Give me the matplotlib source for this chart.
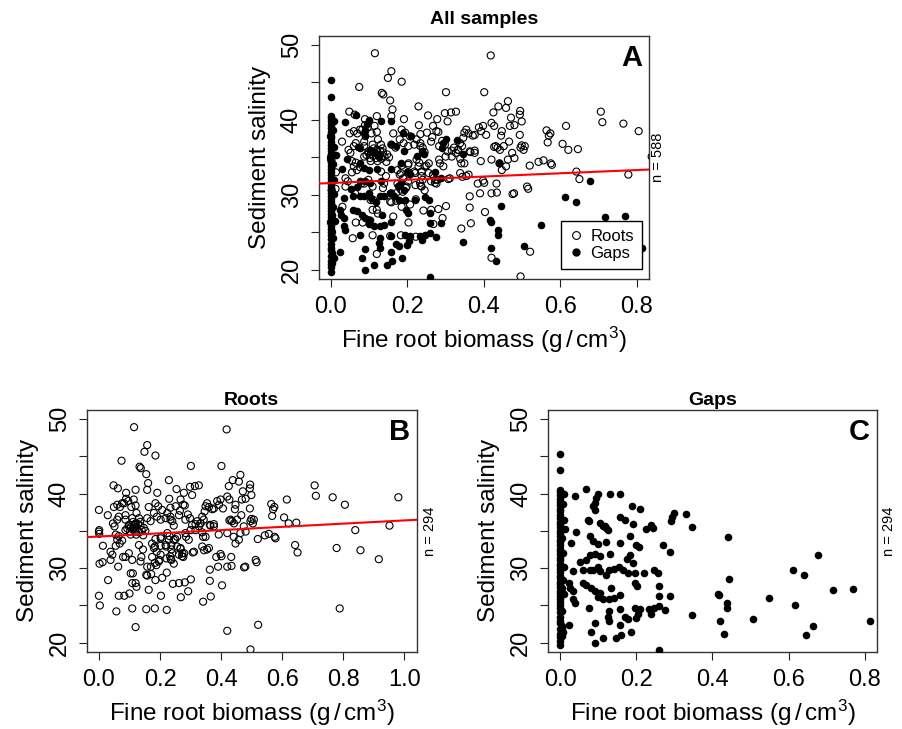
import numpy as np
import matplotlib
matplotlib.use("Agg")
import matplotlib.pyplot as plt
from matplotlib.lines import Line2D

plt.rcParams['font.family'] = ['Liberation Sans', 'DejaVu Sans']
plt.rcParams['mathtext.fontset'] = 'custom'
plt.rcParams['mathtext.rm'] = 'Liberation Sans'
plt.rcParams['mathtext.it'] = 'Liberation Sans:italic'
plt.rcParams['mathtext.default'] = 'regular'

# Fine root biomass (g/cm3) and sediment salinity, cores with roots
roots_points = np.array([
    (0.115, 48.9), (0.418, 48.6), (0.158, 46.5), (0.149, 45.6), (0.185, 45.1), (0.074, 44.4),
    (0.133, 43.6), (0.137, 43.4), (0.301, 43.7), (0.401, 43.7), (0.155, 42.6), (0.229, 41.8),
    (0.463, 42.5), (0.438, 41.8), (0.458, 41.6), (0.425, 41.0), (0.048, 41.1), (0.062, 40.7),
    (0.161, 41.4), (0.158, 40.5), (0.120, 40.5), (0.089, 40.1), (0.191, 40.1), (0.254, 40.6),
    (0.278, 40.1), (0.298, 40.9), (0.314, 41.0), (0.305, 39.8), (0.327, 41.1), (0.495, 41.2),
    (0.494, 40.7), (0.471, 40.3), (0.499, 39.8), (0.480, 39.3), (0.494, 38.0), (0.499, 36.6),
    (0.706, 41.1), (0.710, 39.7), (0.765, 39.5), (0.805, 38.5), (0.980, 39.5), (0.615, 39.2),
    (0.564, 38.6), (0.574, 38.2), (0.570, 37.9), (0.567, 37.0), (0.606, 36.8), (0.621, 36.0),
    (0.646, 36.1), (0.839, 35.1), (0.951, 35.7), (0.778, 32.7), (0.856, 32.4), (0.916, 31.2),
    (0.642, 33.1), (0.650, 32.1), (0.575, 34.2), (0.520, 33.9), (0.556, 34.6), (0.543, 34.4),
    (0.578, 34.0), (0.788, 24.6), (0.521, 22.4), (0.420, 21.6), (0.496, 19.1),
    (0.513, 31.1), (0.516, 30.8), (0.475, 30.1), (0.398, 31.9), (0.401, 31.6), (0.384, 31.5),
    (0.433, 31.5), (0.434, 30.3), (0.390, 30.2), (0.363, 29.8), (0.363, 28.3), (0.403, 27.7),
    (0.341, 25.5), (0.366, 26.2), (0.479, 30.2), (0.420, 30.2),
    (0.000, 34.9), (0.001, 34.6), (0.013, 33.0), (0.002, 30.6), (0.012, 30.8), (0.038, 32.2),
    (0.044, 31.8), (0.038, 31.1), (0.063, 30.2), (0.030, 28.4), (0.000, 26.3), (0.003, 25.0),
    (0.057, 24.2), (0.065, 26.3), (0.083, 26.3), (0.100, 26.6), (0.109, 28.0), (0.104, 29.3),
    (0.123, 27.5), (0.109, 24.6), (0.120, 22.1), (0.155, 24.5), (0.183, 24.6), (0.222, 24.4),
    (0.163, 27.1), (0.158, 29.0), (0.171, 29.2), (0.185, 28.4), (0.207, 28.7), (0.222, 29.4),
    (0.203, 26.3), (0.242, 27.9), (0.262, 28.0), (0.281, 28.1), (0.301, 28.5), (0.292, 26.9),
    (0.268, 26.1), (0.349, 34.2), (0.338, 32.9), (0.307, 32.1), (0.272, 31.6), (0.279, 32.0),
    (0.267, 32.6), (0.233, 31.6), (0.235, 31.2), (0.237, 32.5), (0.196, 30.9), (0.183, 30.7),
    (0.174, 31.5), (0.170, 30.2), (0.139, 31.5), (0.144, 32.5), (0.131, 33.1), (0.109, 31.1),
    (0.087, 31.5), (0.183, 32.9), (0.202, 33.0), (0.218, 33.1), (0.098, 32.0), (0.136, 30.9),
    (0.079, 31.5), (0.155, 29.1), (0.158, 30.2), (0.111, 29.3), (0.120, 28.0),
    (0.174, 33.3), (0.180, 32.7), (0.189, 32.2), (0.202, 34.0), (0.224, 34.7), (0.229, 33.8),
    (0.220, 32.9), (0.237, 33.1), (0.245, 33.8), (0.256, 34.2), (0.256, 32.9), (0.267, 32.7),
    (0.273, 32.0), (0.262, 31.8), (0.276, 31.5), (0.240, 32.0), (0.237, 31.1), (0.221, 31.3),
    (0.245, 30.6), (0.198, 31.1), (0.188, 30.4), (0.202, 31.8),
    (0.251, 38.3), (0.267, 39.2), (0.276, 38.5), (0.265, 37.7), (0.234, 36.9), (0.240, 36.3),
    (0.224, 37.4), (0.291, 37.2), (0.300, 35.1), (0.298, 36.7), (0.311, 32.2), (0.294, 33.8),
    (0.285, 34.2), (0.322, 36.3), (0.333, 36.0), (0.338, 36.9), (0.346, 37.6), (0.349, 38.3),
    (0.354, 38.7), (0.360, 38.2), (0.371, 37.9), (0.376, 35.6), (0.363, 35.8), (0.338, 34.8),
    (0.341, 34.2), (0.360, 32.7), (0.354, 32.5), (0.344, 32.4), (0.376, 38.0), (0.387, 39.0),
    (0.398, 39.2), (0.393, 38.5), (0.420, 39.6), (0.447, 38.5), (0.445, 37.9), (0.431, 36.5),
    (0.442, 36.0), (0.420, 34.7), (0.463, 34.7), (0.447, 33.3), (0.474, 35.6), (0.480, 34.9),
    (0.507, 36.5), (0.504, 36.0),
    (0.000, 37.8), (0.001, 35.1), (0.029, 37.1), (0.049, 38.2), (0.060, 38.5), (0.076, 38.7),
    (0.089, 39.3), (0.096, 39.0), (0.114, 39.2), (0.082, 38.7), (0.106, 38.2), (0.120, 38.4),
    (0.123, 37.4), (0.069, 38.2), (0.060, 36.5), (0.046, 36.0), (0.051, 35.6), (0.055, 34.5),
    (0.060, 33.8), (0.068, 33.3), (0.055, 33.0), (0.065, 36.9), (0.087, 37.1), (0.087, 36.5),
    (0.098, 35.8), (0.109, 36.7), (0.120, 36.0), (0.131, 36.7), (0.136, 35.7), (0.158, 36.7),
    (0.169, 36.3), (0.190, 36.9), (0.202, 36.5), (0.218, 36.7), (0.245, 35.7), (0.234, 36.5),
    (0.262, 37.1), (0.283, 36.5), (0.316, 35.9), (0.332, 36.0), (0.343, 36.5), (0.365, 35.7),
    (0.376, 35.9), (0.452, 36.5), (0.496, 36.3),
    (0.098, 35.6), (0.120, 35.8), (0.147, 35.4), (0.087, 35.1), (0.104, 34.5), (0.065, 34.3),
    (0.076, 33.7), (0.185, 33.9), (0.203, 34.2), (0.250, 33.9), (0.231, 34.3),
    (0.105, 35.5), (0.110, 35.2), (0.115, 35.6), (0.118, 34.9), (0.125, 35.3), (0.128, 35.9),
    (0.112, 36.2), (0.132, 34.8), (0.140, 35.1), (0.102, 34.9), (0.093, 35.3), (0.122, 34.5),
    (0.145, 34.4), (0.152, 35.0), (0.135, 36.2),
    (0.163, 38.2), (0.185, 38.7), (0.194, 38.3), (0.180, 37.4), (0.207, 37.8), (0.230, 39.3),
    (0.234, 38.1), (0.281, 38.4), (0.427, 39.2), (0.406, 38.0), (0.468, 39.2), (0.466, 37.1),
    (0.427, 36.4), (0.305, 35.8), (0.327, 35.6), (0.436, 36.3), (0.283, 34.7), (0.316, 35.1),
    (0.392, 34.5), (0.441, 34.2), (0.458, 33.8),
])

# Fine root biomass (g/cm3) and sediment salinity, cores from gaps
gaps_points = np.array([
    (0.000, 45.3), (0.000, 43.1), (0.000, 40.5), (0.000, 40.2), (0.000, 39.8), (0.000, 39.3),
    (0.000, 38.9), (0.000, 38.4), (0.000, 37.9), (0.000, 37.6), (0.000, 37.1), (0.000, 36.7),
    (0.000, 36.2), (0.000, 35.9), (0.000, 35.5), (0.000, 35.0), (0.000, 34.7), (0.000, 34.3),
    (0.000, 33.8), (0.000, 33.5), (0.000, 33.1), (0.000, 32.6), (0.000, 32.3), (0.000, 31.9),
    (0.000, 31.4), (0.000, 31.1), (0.000, 30.6), (0.000, 30.3), (0.000, 29.9), (0.000, 29.5),
    (0.000, 29.0), (0.000, 28.7), (0.000, 28.2), (0.000, 27.9), (0.000, 27.5), (0.000, 27.0),
    (0.000, 26.7), (0.000, 26.2), (0.000, 25.9), (0.000, 25.4), (0.000, 25.0), (0.000, 24.6),
    (0.000, 24.1), (0.000, 23.4), (0.000, 22.9), (0.000, 22.6), (0.000, 21.8), (0.000, 21.2),
    (0.000, 20.8), (0.000, 20.3), (0.000, 19.7),
    (0.006, 38.6), (0.008, 36.4), (0.005, 34.1), (0.007, 32.0), (0.009, 30.1), (0.006, 28.4),
    (0.010, 26.5), (0.005, 24.3), (0.004, 22.2), (0.008, 39.9), (0.012, 35.3), (0.004, 27.3),
    (0.003, 22.0), (0.007, 21.5), (0.003, 20.9), (0.023, 22.4),
    (0.037, 39.7), (0.066, 40.6), (0.099, 40.0), (0.094, 39.4), (0.090, 38.7), (0.086, 38.3),
    (0.090, 37.8), (0.131, 39.9), (0.156, 39.9), (0.189, 38.3), (0.210, 37.9), (0.072, 36.4),
    (0.112, 35.7), (0.120, 35.4), (0.156, 36.8), (0.169, 36.5), (0.294, 36.9), (0.300, 37.4),
    (0.329, 37.3),
    (0.075, 36.3), (0.103, 36.0), (0.116, 35.6), (0.125, 35.1), (0.192, 35.9), (0.224, 35.2),
    (0.239, 35.8), (0.243, 35.4), (0.291, 36.3), (0.346, 35.5), (0.042, 34.8), (0.029, 33.4),
    (0.077, 34.3), (0.086, 33.6), (0.099, 33.3), (0.121, 33.5), (0.157, 33.4), (0.184, 34.3),
    (0.199, 33.1), (0.206, 32.8), (0.271, 33.1), (0.289, 32.2), (0.052, 30.8), (0.068, 31.1),
    (0.077, 31.8), (0.090, 31.9), (0.103, 31.6), (0.131, 31.9), (0.099, 30.2), (0.077, 29.8),
    (0.059, 29.8), (0.033, 29.6), (0.086, 29.8), (0.105, 29.6), (0.119, 29.1), (0.129, 29.8),
    (0.140, 29.9), (0.154, 30.2), (0.164, 29.8), (0.175, 31.2), (0.182, 31.7), (0.192, 30.7),
    (0.177, 29.3), (0.195, 29.3), (0.221, 29.3), (0.247, 29.7), (0.256, 29.3), (0.058, 28.0),
    (0.068, 27.8), (0.081, 27.3), (0.090, 26.9), (0.103, 26.7), (0.099, 26.1), (0.112, 25.8),
    (0.023, 28.0), (0.026, 27.3), (0.033, 26.9), (0.033, 25.8), (0.037, 25.3), (0.134, 27.3),
    (0.140, 26.0), (0.156, 26.4), (0.129, 25.8), (0.197, 28.0), (0.201, 27.6), (0.260, 27.6),
    (0.287, 26.3), (0.260, 26.2), (0.075, 24.7), (0.156, 24.5), (0.195, 24.7), (0.208, 24.5),
    (0.234, 24.5), (0.247, 24.7), (0.260, 24.9), (0.274, 24.4), (0.239, 23.9), (0.204, 23.8),
    (0.199, 23.3), (0.346, 23.7), (0.129, 24.2), (0.125, 23.5), (0.129, 22.9), (0.169, 23.4),
    (0.177, 23.2), (0.156, 22.4), (0.090, 22.7), (0.081, 21.5), (0.112, 20.6), (0.090, 19.9),
    (0.147, 20.6), (0.160, 21.1), (0.186, 21.5), (0.259, 19.0),
    (0.440, 34.2), (0.678, 31.8), (0.613, 29.7), (0.640, 29.1), (0.444, 28.5), (0.415, 26.6),
    (0.418, 26.4), (0.716, 27.1), (0.770, 27.2), (0.549, 26.0), (0.437, 25.3), (0.437, 24.7),
    (0.618, 25.0), (0.420, 22.9), (0.506, 23.2), (0.431, 21.2), (0.665, 22.3), (0.646, 21.0),
    (0.814, 22.9),
])

roots_biomass, roots_salinity = roots_points[:, 0], roots_points[:, 1]
gaps_biomass, gaps_salinity = gaps_points[:, 0], gaps_points[:, 1]

# Least-squares lines (intercept, slope)
all_fit = (31.57, 2.17)
roots_fit = (34.24, 2.16)

W, H = 903, 729
fig = plt.figure(figsize=(W / 100, H / 100), dpi=100)


def px_box(left, right, top, bottom):
    return [left / W, 1 - bottom / H, (right - left) / W, (bottom - top) / H]


ax_all = fig.add_axes(px_box(318.7, 649, 36, 278.7))
ax_roots = fig.add_axes(px_box(86.7, 416.7, 410, 651.7))
ax_gaps = fig.add_axes(px_box(548.3, 876.7, 410, 651.7))

XLABEL = 'Fine root biomass (g$\\,$/$\\,$cm$^{3}$)'
YLABEL = 'Sediment salinity'


def style(ax, xlim, xticks, letter, n_text, n_dx):
    ax.set_xlim(*xlim)
    ax.set_ylim(18.8, 51.2)
    ax.set_xticks(xticks)
    ax.set_xticklabels([f'{t:.1f}' for t in xticks])
    ax.set_yticks([20, 25, 30, 35, 40, 45, 50])
    ax.set_yticklabels(['20', '', '30', '', '40', '', '50'])
    ax.tick_params(direction='out', length=5.5, width=0.8, labelsize=17,
                   colors='#222222', labelcolor='black')
    ax.tick_params(axis='x', pad=7)
    ax.tick_params(axis='y', pad=6)
    for lab in ax.get_yticklabels():
        lab.set_rotation(90)
        lab.set_va('center')
    for s in ax.spines.values():
        s.set_linewidth(1.0)
        s.set_color('#333333')
    ax.annotate(XLABEL, xy=(0.5, 0), xycoords='axes fraction', xytext=(0, -69),
                textcoords='offset pixels', ha='center', va='baseline', fontsize=17.5)
    ax.annotate(YLABEL, xy=(0, 0.5), xycoords='axes fraction', xytext=(-53, 0),
                textcoords='offset pixels', ha='center', va='baseline', fontsize=17.5,
                rotation=90, rotation_mode='anchor')
    ax.annotate(letter, xy=(1, 1), xycoords='axes fraction', xytext=(-17, -22),
                textcoords='offset pixels', ha='center', va='center', fontsize=21,
                fontweight='bold')
    ax.annotate(n_text, xy=(1, 35), xycoords=('axes fraction', 'data'), xytext=(n_dx, 0),
                textcoords='offset pixels', ha='center', va='center', fontsize=10.5,
                rotation=90, annotation_clip=False)


def add_title(ax, text, dy):
    ax.annotate(text, xy=(0.5, 1), xycoords='axes fraction', xytext=(0, dy),
                textcoords='offset pixels', ha='center', va='baseline', fontsize=14,
                fontweight='bold')


open_kw = dict(s=26, facecolors='none', edgecolors='black', linewidths=0.8, zorder=3)
fill_kw = dict(s=30, color='black', linewidths=0, zorder=4)

# Panel A: all samples
ax_all.scatter(roots_biomass, roots_salinity, **open_kw)
ax_all.scatter(gaps_biomass, gaps_salinity, **fill_kw)
ax_all.axline((0, all_fit[0]), slope=all_fit[1], color='#ff0000', lw=1.5, zorder=5)
style(ax_all, (-0.032, 0.832), [0.0, 0.2, 0.4, 0.6, 0.8], 'A', 'n = 588', 9.3)
add_title(ax_all, 'All samples', 11.7)
handles = [
    Line2D([], [], ls='none', marker='o', markersize=5.6, markerfacecolor='none',
           markeredgecolor='black', markeredgewidth=0.8, label='Roots'),
    Line2D([], [], ls='none', marker='o', markersize=6.0, markerfacecolor='black',
           markeredgecolor='black', markeredgewidth=0, label='Gaps'),
]
leg = ax_all.legend(handles=handles, loc='lower right', bbox_to_anchor=(0.9797, 0.0387),
                    borderaxespad=0, fontsize=12, frameon=True, fancybox=False,
                    framealpha=1, edgecolor='black', borderpad=0.5, handlelength=0.75,
                    handletextpad=0.5, labelspacing=0.1)
leg.get_frame().set_linewidth(1.0)
leg.set_zorder(10)

# Panel B: cores with roots
ax_roots.scatter(roots_biomass, roots_salinity, **open_kw)
ax_roots.axline((0, roots_fit[0]), slope=roots_fit[1], color='#ff0000', lw=1.5, zorder=5)
style(ax_roots, (-0.04, 1.04), [0.0, 0.2, 0.4, 0.6, 0.8, 1.0], 'B', 'n = 294', 13)
add_title(ax_roots, 'Roots', 5)

# Panel C: cores from gaps
ax_gaps.scatter(gaps_biomass, gaps_salinity, **fill_kw)
style(ax_gaps, (-0.032, 0.832), [0.0, 0.2, 0.4, 0.6, 0.8], 'C', 'n = 294', 12)
add_title(ax_gaps, 'Gaps', 5)

fig.savefig('out.png', dpi=100)
